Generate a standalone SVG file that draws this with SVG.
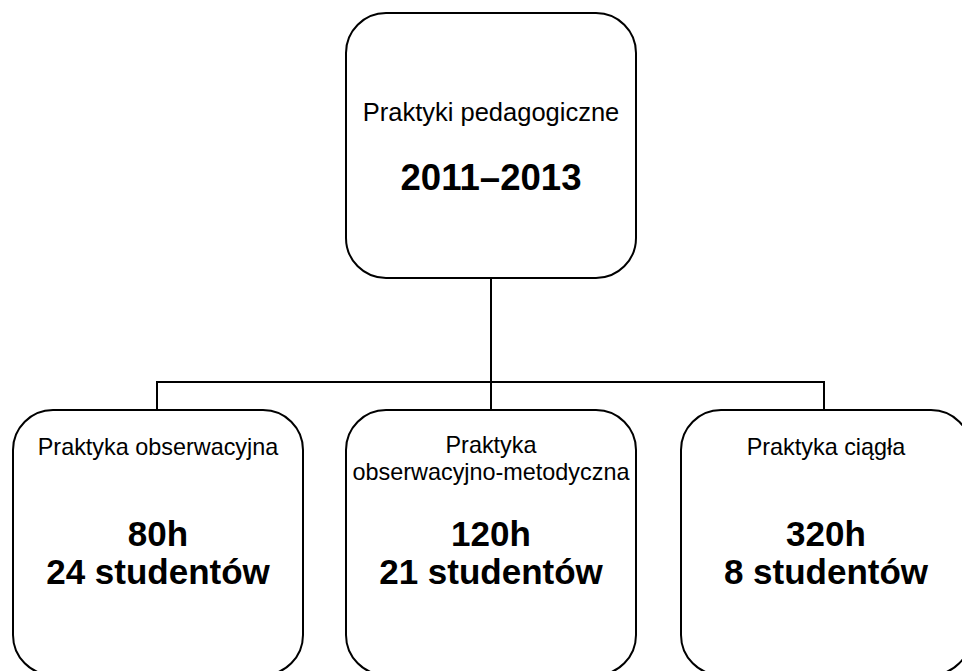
<svg xmlns="http://www.w3.org/2000/svg" width="962" height="671" viewBox="0 0 962 671">
<style>
.box{fill:#fff;stroke:#000;stroke-width:2}
.conn{fill:none;stroke:#000;stroke-width:2}
.t{font-family:"Liberation Sans",Arial,sans-serif;font-size:23.4px;fill:#000;text-anchor:middle}
.b{font-family:"Liberation Sans",Arial,sans-serif;font-size:35px;font-weight:bold;fill:#000;text-anchor:middle}
</style>
<rect width="962" height="671" fill="#fff"/>
<g id="connectors">
<path class="conn" d="M491 278 V382 M157 410 V382 H824 V410 M491 382 V410"/>
</g>
<g id="top">
<rect class="box" x="346" y="13" width="290" height="265" rx="40" ry="40"/>
<text class="t" x="491" y="121" style="font-size:25.5px">Praktyki pedagogiczne</text>
<text class="b" x="491" y="190" style="font-size:36.6px">2011–2013</text>
</g>
<g id="obs">
<rect class="box" x="13" y="410" width="290" height="265" rx="40" ry="40"/>
<text class="t" x="158" y="455">Praktyka obserwacyjna</text>
<text class="b" x="158" y="546">80h</text>
<text class="b" x="158" y="584">24 studentów</text>
</g>
<g id="met">
<rect class="box" x="346" y="410" width="290" height="265" rx="40" ry="40"/>
<text class="t" x="491" y="453">Praktyka</text>
<text class="t" x="491" y="480">obserwacyjno-metodyczna</text>
<text class="b" x="491" y="546">120h</text>
<text class="b" x="491" y="584">21 studentów</text>
</g>
<g id="ciag">
<rect class="box" x="681" y="410" width="290" height="265" rx="40" ry="40"/>
<text class="t" x="826" y="455">Praktyka ciągła</text>
<text class="b" x="826" y="546">320h</text>
<text class="b" x="826" y="584">8 studentów</text>
</g>
</svg>
